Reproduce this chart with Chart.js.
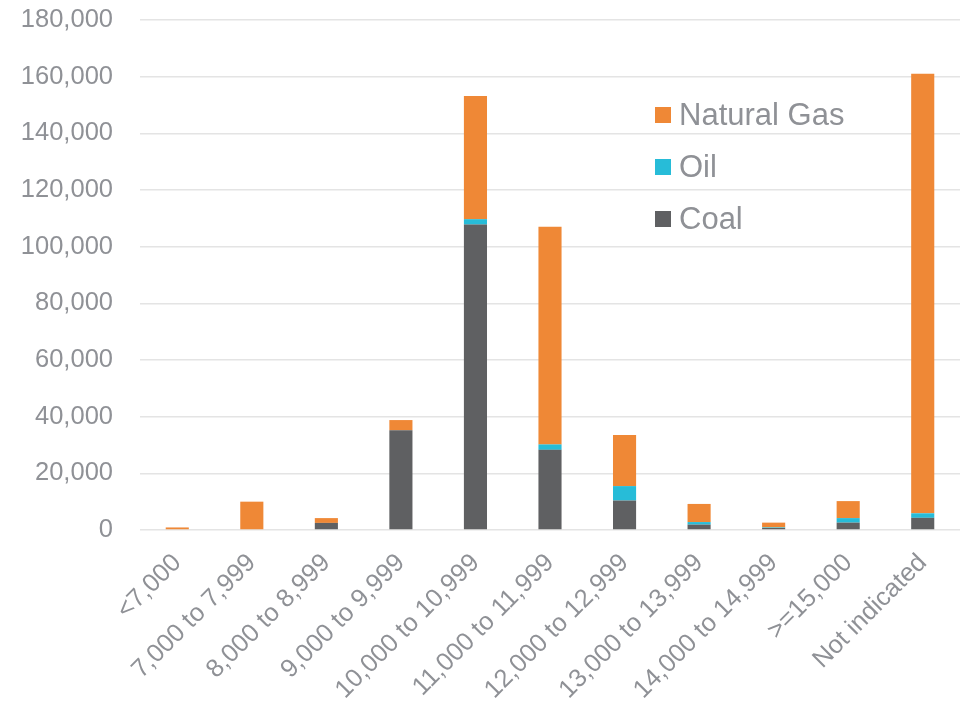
<!DOCTYPE html>
<html lang="en">
  <head>
    <meta charset="UTF-8" />
    <title>Capacity by heat rate</title>
    <script src="https://cdn.jsdelivr.net/npm/chart.js"></script>
    <style>
      html,
      body {
        margin: 0;
        padding: 0;
        background: #fff;
      }
      .wrap {
        width: 962px;
        height: 704px;
      }
    </style>
  </head>
  <body>
    <div class="wrap"><canvas id="heatRateChart"></canvas></div>

    <script>
      const categories = [
        "<7,000",
        "7,000 to 7,999",
        "8,000 to 8,999",
        "9,000 to 9,999",
        "10,000 to 10,999",
        "11,000 to 11,999",
        "12,000 to 12,999",
        "13,000 to 13,999",
        "14,000 to 14,999",
        ">=15,000",
        "Not indicated",
      ];
      const coal = [0, 0, 2500, 35200, 107800, 28300, 10400, 1900, 700, 2600, 4300];
      const oil = [0, 0, 0, 0, 1900, 1900, 5100, 900, 200, 1600, 1600];
      const naturalGas = [900, 10000, 1700, 3600, 43500, 76800, 18000, 6400, 1700, 6000, 155100];
      const yTicks = [0, 20000, 40000, 60000, 80000, 100000, 120000, 140000, 160000, 180000];

      const textGray = "#8f9196";
      const font = "'Liberation Sans', Arial, sans-serif";

      // legend drawn at the top right of the plot, Natural Gas first
      const sideLegend = {
        id: "sideLegend",
        afterDraw(chart) {
          const ctx = chart.ctx;
          const area = chart.chartArea;
          const items = chart.data.datasets.slice().reverse();
          ctx.save();
          ctx.font = "31px " + font;
          ctx.textBaseline = "middle";
          items.forEach((ds, i) => {
            const y = area.top + 95 + i * 52;
            const x = area.left + 515;
            ctx.fillStyle = ds.backgroundColor;
            ctx.fillRect(x, y - 8, 16, 16);
            ctx.fillStyle = textGray;
            ctx.fillText(ds.label, x + 24, y + 1);
          });
          ctx.restore();
        },
      };

      new Chart(document.getElementById("heatRateChart"), {
        type: "bar",
        data: {
          labels: categories,
          datasets: [
            { label: "Coal", data: coal, backgroundColor: "#5f6062" },
            { label: "Oil", data: oil, backgroundColor: "#27bcd8" },
            { label: "Natural Gas", data: naturalGas, backgroundColor: "#ef8836" },
          ],
        },
        options: {
          responsive: true,
          maintainAspectRatio: false,
          animation: false,
          layout: { padding: { top: 20, right: 2, left: 0, bottom: 0 } },
          datasets: {
            bar: { barPercentage: 0.31, categoryPercentage: 1 },
          },
          plugins: {
            legend: { display: false },
            tooltip: { enabled: false },
          },
          scales: {
            x: {
              stacked: true,
              grid: { display: false },
              border: { display: false },
              ticks: {
                color: textGray,
                font: { family: font, size: 25.5 },
                maxRotation: 45,
                minRotation: 45,
                padding: 10,
              },
              afterFit(scale) {
                scale.height = 174;
                scale.paddingLeft = 0;
                scale.paddingRight = 0;
                scale.paddingTop = 0;
                scale.paddingBottom = 0;
              },
            },
            y: {
              stacked: true,
              min: 0,
              max: 180000,
              afterBuildTicks(scale) {
                scale.ticks = yTicks.map((v) => ({ value: v }));
              },
              grid: { color: "#e4e4e4", lineWidth: 1.5, drawTicks: false },
              border: { display: false },
              ticks: {
                color: textGray,
                font: { family: font, size: 25.5 },
                padding: 27,
                callback: (v) => v.toLocaleString("en-US"),
              },
              afterFit(scale) {
                scale.width = 140;
                scale.paddingTop = 0;
                scale.paddingBottom = 0;
              },
            },
          },
        },
        plugins: [sideLegend],
      });
    </script>
  </body>
</html>
